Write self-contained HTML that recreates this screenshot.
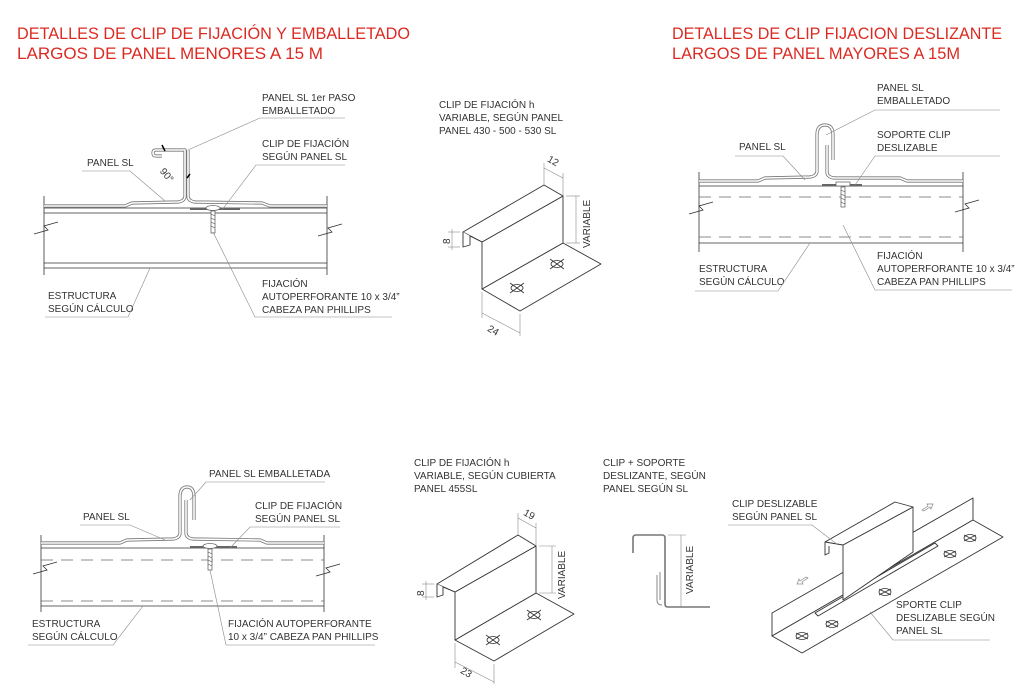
<!DOCTYPE html>
<html><head><meta charset="utf-8"><style>
html,body{margin:0;padding:0;background:#fff;}
svg{display:block;}
.t{font-family:"Liberation Sans",sans-serif;font-size:10px;fill:#333;}
.r{font-family:"Liberation Sans",sans-serif;font-size:17px;fill:#dc2a22;}
.l{stroke:#333;stroke-width:0.8;fill:none;}
.g{stroke:#888;stroke-width:0.6;fill:none;}
.d{stroke:#666;stroke-width:0.8;fill:none;stroke-dasharray:12 8;}
.pn{stroke:#777;stroke-width:3.2;fill:none;stroke-linejoin:round;}
.pw{stroke:#fff;stroke-width:1.6;fill:none;stroke-linejoin:round;}
.s{stroke:#333;stroke-width:0.9;fill:#fff;stroke-linejoin:round;}
</style></head><body>
<svg width="1024" height="696" viewBox="0 0 1024 696" xmlns="http://www.w3.org/2000/svg">
<text class="r" x="17" y="39" textLength="393" lengthAdjust="spacingAndGlyphs">DETALLES DE CLIP DE FIJACIÓN Y EMBALLETADO</text>
<text class="r" x="17" y="59" textLength="306" lengthAdjust="spacingAndGlyphs">LARGOS DE PANEL MENORES A 15 M</text>
<text class="r" x="672" y="39" textLength="330" lengthAdjust="spacingAndGlyphs">DETALLES DE CLIP FIJACION DESLIZANTE</text>
<text class="r" x="672" y="59" textLength="288" lengthAdjust="spacingAndGlyphs">LARGOS DE PANEL MAYORES A 15M</text>

<!-- TOP LEFT -->
<g>
<line class="l" x1="44" y1="196" x2="44" y2="275"/><line class="l" x1="327" y1="196" x2="327" y2="275"/>
<line class="l" x1="44" y1="208" x2="327" y2="208"/><line class="l" x1="44" y1="213" x2="327" y2="213"/>
<line class="l" x1="44" y1="263" x2="327" y2="263"/><line class="l" x1="44" y1="268" x2="327" y2="268"/>
<polyline class="l" points="34,234 48,230 44,226 58,222"/><polyline class="l" points="318,236 332,232 328,228 342,224"/>
<path class="pn" d="M44,206 L125,206 L132,203 L178,202 Q185,201 185,196 L185,150 L156,150 Q153,150 153,153 Q153,156 156,156 L162,156"/>
<path class="pw" d="M44,206 L125,206 L132,203 L178,202 Q185,201 185,196 L185,150 L156,150 Q153,150 153,153 Q153,156 156,156 L162,156"/>
<path class="pn" d="M188,150 L188,196 Q188,201 195,202 L262,203 L270,206 L327,206"/>
<path class="pw" d="M188,150 L188,196 Q188,201 195,202 L262,203 L270,206 L327,206"/>
<line x1="190" y1="209" x2="240" y2="209" stroke="#666" stroke-width="2"/>
<ellipse cx="213" cy="208" rx="7" ry="2.5" fill="#fff" stroke="#666" stroke-width="0.8"/>
<rect x="211" y="211" width="4" height="22" fill="#fff" stroke="#555" stroke-width="0.7"/>
<path d="M211,214 l4,2 M211,218 l4,2 M211,222 l4,2 M211,226 l4,2" stroke="#555" stroke-width="0.6"/>
<text class="t" x="161" y="176" transform="rotate(50 165 172)">90°</text>
<path d="M165,151 l-3,-6 M187,178 l3,-4" stroke="#000" stroke-width="1.5"/>
<text class="t" x="262" y="101">PANEL SL 1er PASO</text><text class="t" x="262" y="114">EMBALLETADO</text>
<polyline class="g" points="188,150 260,118 345,118"/>
<text class="t" x="262" y="147">CLIP DE FIJACIÓN</text><text class="t" x="262" y="160">SEGÚN PANEL SL</text>
<polyline class="g" points="222,210 256,165 345,165"/>
<text class="t" x="87" y="166">PANEL SL</text><polyline class="g" points="82,171 130,171 165,201"/>
<text class="t" x="48" y="299">ESTRUCTURA</text><text class="t" x="48" y="312">SEGÚN CÁLCULO</text>
<polyline class="g" points="45,317 128,317 150,268"/>
<text class="t" x="262" y="287">FIJACIÓN</text><text class="t" x="262" y="300">AUTOPERFORANTE 10 x 3/4”</text><text class="t" x="262" y="313">CABEZA PAN PHILLIPS</text>
<polyline class="g" points="213,232 255,317 392,317"/>
</g>

<!-- TOP MIDDLE CLIP -->
<g>
<text class="t" x="439" y="108">CLIP DE FIJACIÓN h</text><text class="t" x="439" y="121">VARIABLE, SEGÚN PANEL</text><text class="t" x="439" y="134">PANEL 430 - 500 - 530 SL</text>
<polygon class="s" points="482,289 563,243 601,264 520,311"/>
<polygon class="s" points="482,242 563,196 563,243 482,289"/>
<polygon class="s" points="463,232 544,185 563,196 482,242"/>
<polyline class="s" points="463,232 463,247 470,245 470,236" />
<line class="l" x1="470" y1="236" x2="482" y2="242"/>
<g class="l"><ellipse cx="517" cy="288" rx="6" ry="3.5"/><path d="M510,283 l14,10 M510,293 l14,-10"/>
<ellipse cx="557" cy="264" rx="6" ry="3.5"/><path d="M550,259 l14,10 M550,269 l14,-10"/></g>
<g class="g"><line x1="544" y1="185" x2="544" y2="163"/><line x1="563" y1="196" x2="563" y2="173"/><line x1="544" y1="168" x2="563" y2="178"/>
<line x1="566" y1="196" x2="580" y2="196"/><line x1="566" y1="243" x2="580" y2="243"/><line x1="576" y1="196" x2="576" y2="243"/>
<line x1="448" y1="232" x2="460" y2="232"/><line x1="448" y1="247" x2="460" y2="247"/><line x1="452" y1="229" x2="452" y2="250"/>
<line x1="482" y1="292" x2="482" y2="318"/><line x1="520" y1="314" x2="520" y2="336"/><line x1="482" y1="313" x2="520" y2="333"/></g>
<text class="t" x="548" y="164" transform="rotate(30 553 160)">12</text>
<text class="t" x="585" y="243" transform="rotate(-90 590 243)">VARIABLE</text>
<text class="t" x="442" y="244" transform="rotate(-90 446 240)">8</text>
<text class="t" x="488" y="334" transform="rotate(30 494 330)">24</text>
</g>

<!-- TOP RIGHT -->
<g>
<line class="l" x1="699" y1="172" x2="699" y2="252"/><line class="l" x1="963" y1="172" x2="963" y2="252"/>
<line class="l" x1="699" y1="186" x2="963" y2="186"/><line class="d" x1="699" y1="197" x2="963" y2="197"/>
<line class="d" x1="699" y1="237" x2="963" y2="237"/><line class="l" x1="699" y1="243" x2="963" y2="243"/>
<polyline class="l" points="689,214 703,210 699,206 713,202"/><polyline class="l" points="955,212 969,208 965,204 979,200"/>
<path class="pn" d="M699,181 L758,181 L765,178 L810,177 Q817,176 817,171 L817,135 Q817,125 825,125 Q833,125 833,135 L833,160"/>
<path class="pw" d="M699,181 L758,181 L765,178 L810,177 Q817,176 817,171 L817,135 Q817,125 825,125 Q833,125 833,135 L833,160"/>
<path class="pn" d="M827,145 L827,172 Q827,177 834,178 L900,178 L907,181 L963,181"/>
<path class="pw" d="M827,145 L827,172 Q827,177 834,178 L900,178 L907,181 L963,181"/>
<line x1="822" y1="185" x2="862" y2="185" stroke="#666" stroke-width="2"/>
<rect x="836" y="182" width="14" height="4" fill="#fff" stroke="#555" stroke-width="0.7"/>
<rect x="841" y="187" width="4" height="20" fill="#fff" stroke="#555" stroke-width="0.7"/>
<path d="M841,190 l4,2 M841,194 l4,2 M841,198 l4,2 M841,202 l4,2" stroke="#555" stroke-width="0.6"/>
<text class="t" x="877" y="91">PANEL SL</text><text class="t" x="877" y="104">EMBALLETADO</text>
<polyline class="g" points="826,135 875,110 1000,110"/>
<text class="t" x="877" y="138">SOPORTE CLIP</text><text class="t" x="877" y="151">DESLIZABLE</text>
<polyline class="g" points="855,185 875,156 1000,156"/>
<text class="t" x="739" y="150">PANEL SL</text><polyline class="g" points="735,156 783,156 805,180"/>
<text class="t" x="699" y="272">ESTRUCTURA</text><text class="t" x="699" y="285">SEGÚN CÁLCULO</text>
<polyline class="g" points="695,291 778,291 810,243"/>
<text class="t" x="877" y="259">FIJACIÓN</text><text class="t" x="877" y="272">AUTOPERFORANTE 10 x 3/4”</text><text class="t" x="877" y="285">CABEZA PAN PHILLIPS</text>
<polyline class="g" points="843,225 875,290 1012,290"/>
</g>

<!-- BOTTOM LEFT -->
<g>
<line class="l" x1="41" y1="535" x2="41" y2="612"/><line class="l" x1="324" y1="535" x2="324" y2="612"/>
<line class="l" x1="41" y1="548" x2="324" y2="548"/><line class="d" x1="41" y1="560" x2="324" y2="560"/>
<line class="d" x1="41" y1="601" x2="324" y2="601"/><line class="l" x1="41" y1="606" x2="324" y2="606"/>
<polyline class="l" points="33,574 47,570 43,566 57,562"/><polyline class="l" points="316,576 330,572 326,568 340,564"/>
<path class="pn" d="M41,543 L120,543 L127,540 L173,539 Q180,538 180,533 L180,497 Q180,487 187,487 Q194,487 194,497 L194,520"/>
<path class="pw" d="M41,543 L120,543 L127,540 L173,539 Q180,538 180,533 L180,497 Q180,487 187,487 Q194,487 194,497 L194,520"/>
<path class="pn" d="M186,500 L186,533 Q186,538 193,539 L260,540 L267,543 L324,543"/>
<path class="pw" d="M186,500 L186,533 Q186,538 193,539 L260,540 L267,543 L324,543"/>
<line x1="190" y1="547" x2="237" y2="547" stroke="#666" stroke-width="2"/>
<ellipse cx="210" cy="546" rx="7" ry="2.5" fill="#fff" stroke="#666" stroke-width="0.8"/>
<rect x="208" y="549" width="4" height="21" fill="#fff" stroke="#555" stroke-width="0.7"/>
<path d="M208,552 l4,2 M208,556 l4,2 M208,560 l4,2 M208,564 l4,2" stroke="#555" stroke-width="0.6"/>
<text class="t" x="209" y="477">PANEL SL EMBALLETADA</text><polyline class="g" points="190,500 206,482 325,482"/>
<text class="t" x="255" y="509">CLIP DE FIJACIÓN</text><text class="t" x="255" y="522">SEGÚN PANEL SL</text>
<polyline class="g" points="230,548 250,527 340,527"/>
<text class="t" x="83" y="520">PANEL SL</text><polyline class="g" points="80,525 130,525 165,540"/>
<text class="t" x="32" y="627">ESTRUCTURA</text><text class="t" x="32" y="640">SEGÚN CÁLCULO</text>
<polyline class="g" points="28,645 113,645 143,606"/>
<text class="t" x="228" y="627">FIJACIÓN AUTOPERFORANTE</text><text class="t" x="228" y="640">10 x 3/4” CABEZA PAN PHILLIPS</text>
<polyline class="g" points="210,570 226,645 375,645"/>
</g>

<!-- BOTTOM MIDDLE CLIP -->
<g>
<text class="t" x="414" y="466">CLIP DE FIJACIÓN h</text><text class="t" x="414" y="479">VARIABLE, SEGÚN CUBIERTA</text><text class="t" x="414" y="492">PANEL 455SL</text>
<polygon class="s" points="455,640 536,593 574,614 494,661"/>
<polygon class="s" points="455,592 536,546 536,593 455,640"/>
<polygon class="s" points="437,584 518,535 536,546 455,592"/>
<polyline class="s" points="437,584 437,597 443,595 443,587"/>
<line class="l" x1="443" y1="587" x2="455" y2="592"/>
<g class="l"><ellipse cx="493" cy="640" rx="6" ry="3.5"/><path d="M486,635 l14,10 M486,645 l14,-10"/>
<ellipse cx="534" cy="615" rx="6" ry="3.5"/><path d="M527,610 l14,10 M527,620 l14,-10"/></g>
<g class="g"><line x1="518" y1="535" x2="518" y2="513"/><line x1="536" y1="546" x2="536" y2="523"/><line x1="518" y1="518" x2="536" y2="528"/>
<line x1="539" y1="546" x2="556" y2="546"/><line x1="539" y1="593" x2="556" y2="593"/><line x1="552" y1="546" x2="552" y2="593"/>
<line x1="422" y1="584" x2="434" y2="584"/><line x1="422" y1="597" x2="434" y2="597"/><line x1="426" y1="581" x2="426" y2="600"/>
<line x1="455" y1="643" x2="455" y2="668"/><line x1="494" y1="664" x2="494" y2="684"/><line x1="455" y1="662" x2="494" y2="682"/></g>
<text class="t" x="524" y="518" transform="rotate(30 530 514)">19</text>
<text class="t" x="560" y="594" transform="rotate(-90 565 594)">VARIABLE</text>
<text class="t" x="416" y="596" transform="rotate(-90 420 592)">8</text>
<text class="t" x="461" y="676" transform="rotate(30 467 672)">23</text>
</g>

<!-- small profile -->
<g>
<text class="t" x="603" y="466">CLIP + SOPORTE</text><text class="t" x="603" y="479">DESLIZANTE, SEGÚN</text><text class="t" x="603" y="492">PANEL SEGÚN SL</text>
<path d="M633,553 L633,538 Q633,535 636,535 L662,535 Q665,535 665,538 L665,604 Q665,607 668,607 L710,607" stroke="#777" stroke-width="1.6" fill="none"/>
<path d="M657,575 L657,600 Q657,605 662,605 M660,572 L660,600" stroke="#888" stroke-width="1" fill="none"/>
<g class="g"><line x1="668" y1="535" x2="686" y2="535"/><line x1="681" y1="535" x2="681" y2="607"/></g>
<text class="t" x="688" y="589" transform="rotate(-90 693 589)">VARIABLE</text>
</g>

<!-- BOTTOM RIGHT -->
<g>
<polygon class="s" points="772,613 973,498 973,520 772,636"/>
<polygon class="s" points="772,636 973,520 1003,537 802,653"/>
<polygon class="s" points="815,613 935,543 938,546 818,616"/>
<g class="l">
<ellipse cx="802" cy="636" rx="6" ry="3.5"/><path d="M796,633 l12,6 M796,639 l12,-6"/>
<ellipse cx="832" cy="624" rx="6" ry="3.5"/><path d="M826,621 l12,6 M826,627 l12,-6"/>
<ellipse cx="885" cy="592" rx="6" ry="3.5"/><path d="M879,589 l12,6 M879,595 l12,-6"/>
<ellipse cx="950" cy="554" rx="6" ry="3.5"/><path d="M944,551 l12,6 M944,557 l12,-6"/>
<ellipse cx="970" cy="538" rx="6" ry="3.5"/><path d="M964,535 l12,6 M964,541 l12,-6"/>
</g>
<polygon class="s" points="843,545 913,507 913,552 843,600"/>
<polygon class="s" points="825,542 895,502 913,507 843,545"/>
<polyline class="s" points="825,542 825,555 829,553 829,546"/>
<path d="M922,510 l6,-4 l-1,-2 l6,0 l-2,5 l-1,-2 l-6,4z M808,578 l-6,4 l1,2 l-6,0 l2,-5 l1,2 l6,-4z" fill="#fff" stroke="#888" stroke-width="0.7"/>
<text class="t" x="732" y="507">CLIP DESLIZABLE</text><text class="t" x="732" y="520">SEGÚN PANEL SL</text>
<polyline class="g" points="728,525 812,525 838,545"/>
<text class="t" x="896" y="608">SPORTE CLIP</text><text class="t" x="896" y="621">DESLIZABLE SEGÚN</text><text class="t" x="896" y="634">PANEL SL</text>
<polyline class="g" points="870,612 893,640 990,640"/>
</g>
</svg>
</body></html>
